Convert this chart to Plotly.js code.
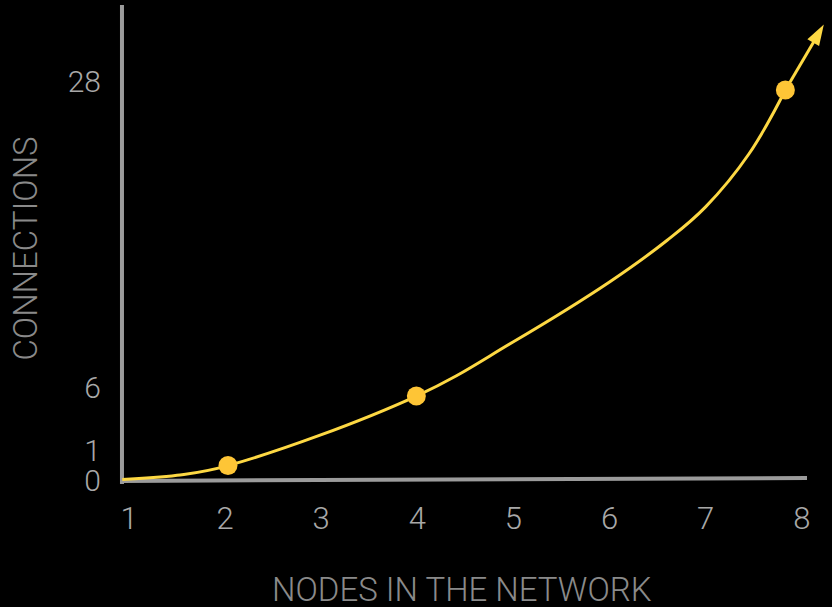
<!DOCTYPE html>
<html>
<head>
<meta charset="utf-8">
<script src="https://cdn.plot.ly/plotly-3.0.1.min.js"></script>
<style>html,body{margin:0;padding:0;background:#000;}#chart{width:832px;height:607px;}</style>
</head>
<body>
<div id="chart"></div>
<script>
// Data
const nodes = [2.03, 3.99, 7.83];
const connections = [1, 6, 28];
const curveX = [0.93, 1.5, 2.03, 3.99, 5.0, 6.0, 6.6, 7.0, 7.45, 7.83];
const curveY = [0, 0.3, 1, 6, 9.9, 14.2, 17.2, 19.6, 23.4, 28];
const arrowX = [7.83, 8.23];
const arrowY = [28, 32.7];
const xTicks = [1, 2, 3, 4, 5, 6, 7, 8];
const xTickLabels = ['1', '2', '3', '4', '5', '6', '7', '8'];
const yTickLabels = ['0', '1', '6', '28'];
const xTitle = 'NODES IN THE NETWORK';
const yTitle = 'CONNECTIONS';

// layout helpers (label placement along the axis)
const yLabelPos = [-0.1, 2.1, 6.6, 28.6];
const xRange = [0.8023, 8.315];
const yRange = [-1.258, 34.47];
const axisX0 = 0.927, axisX1 = 8.055;
const axisYTop = 34.11, axisYBottom = -0.32;

const lineColor = '#fdd843';
const dotColor = '#fec536';
const axisColor = '#9b9b9b';
const font = 'Roboto, "Liberation Sans", sans-serif';

const traces = [
  {x: curveX, y: curveY, mode: 'lines', line: {color: lineColor, width: 3, shape: 'spline', smoothing: 1.1}, hoverinfo: 'skip'},
  {x: arrowX, y: arrowY, mode: 'lines+markers', line: {color: lineColor, width: 3},
   marker: {symbol: ['circle', 'arrow'], size: [0, 22], color: lineColor, opacity: 1, line: {width: 0}, angleref: 'previous'},
   cliponaxis: false, hoverinfo: 'skip'},
  {x: nodes, y: connections, mode: 'markers', marker: {color: dotColor, size: 19}, cliponaxis: false}
];

const layout = {
  width: 832, height: 607,
  paper_bgcolor: '#000', plot_bgcolor: '#000',
  margin: {l: 110, r: 0, t: 0, b: 110},
  showlegend: false,
  xaxis: {
    range: xRange, showgrid: false, zeroline: false, showline: false, ticks: '',
    tickvals: xTicks, ticktext: xTickLabels, ticklabelstandoff: 0,
    tickfont: {family: font, size: 31, color: '#a8a8a8', weight: 300},
    fixedrange: true
  },
  yaxis: {
    range: yRange, showgrid: false, zeroline: false, showline: false, ticks: '',
    tickvals: yLabelPos, ticktext: yTickLabels, ticklabelstandoff: 8,
    tickfont: {family: font, size: 30, color: '#a8a8a8', weight: 300},
    title: {text: yTitle, standoff: 20, font: {family: font, size: 33, color: '#8a8a8a', weight: 300}},
    fixedrange: true
  },
  annotations: [
    {text: xTitle, xref: 'paper', yref: 'paper', x: 0.4875, y: -0.186, xanchor: 'center', yanchor: 'middle',
     showarrow: false, font: {family: font, size: 33, color: '#8a8a8a', weight: 300}}
  ],
  shapes: [
    {type: 'line', xref: 'x', yref: 'y', x0: axisX0, x1: axisX1, y0: -0.1, y1: 0.1, line: {color: axisColor, width: 4}, layer: 'below'},
    {type: 'line', xref: 'x', yref: 'y', x0: axisX0, x1: axisX0, y0: axisYBottom, y1: axisYTop, line: {color: axisColor, width: 4}, layer: 'below'}
  ]
};

Plotly.newPlot('chart', traces, layout, {displayModeBar: false, staticPlot: true});
</script>
</body>
</html>
